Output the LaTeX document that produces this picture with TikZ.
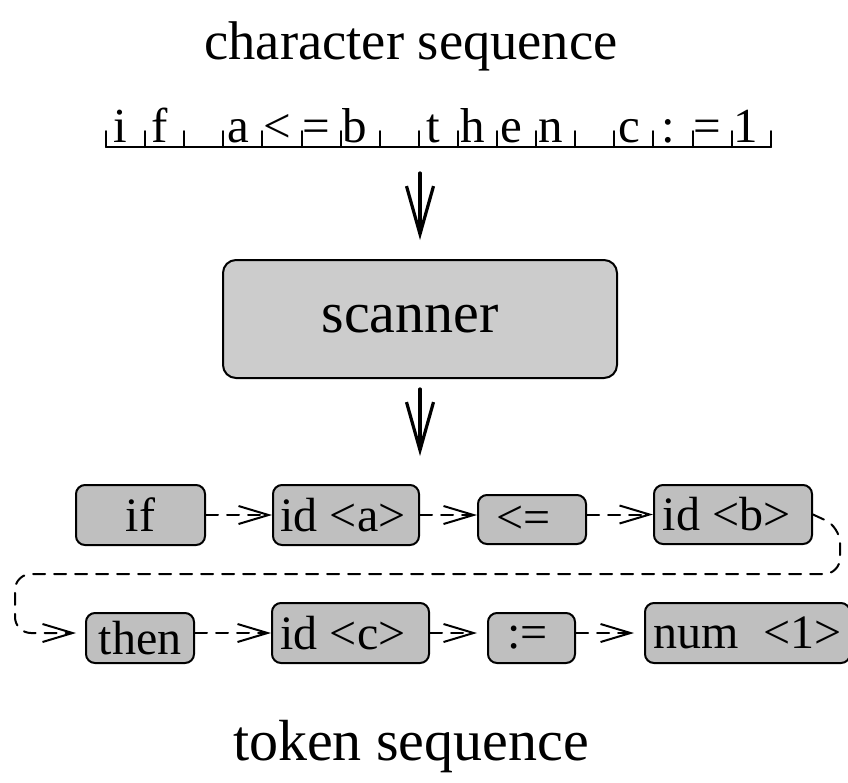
\documentclass[tikz,border=0pt]{standalone}
\usepackage{fontspec}
\setmainfont{Liberation Serif}
\usetikzlibrary{arrows.meta,positioning}
\definecolor{scangray}{gray}{0.8}
\definecolor{tokengray}{gray}{0.75}

\begin{document}
\begin{tikzpicture}[x=1pt,y=-1pt,line cap=round,
  every node/.style={inner sep=0pt},
  bigfont/.style={font=\fontsize{58}{62}\selectfont},
  tapefont/.style={font=\fontsize{49}{52}\selectfont},
  tok/.style={draw,line width=2pt,rounded corners=9pt,fill=tokengray,
   font=\fontsize{48}{50}\selectfont},
  bigarrow/.style={line width=3.2pt,-{Straight Barb[length=48pt,width=27pt]}},
  flow/.style={line width=2pt,dash pattern=on 12pt off 9pt,
   -{Straight Barb[length=30pt,width=18pt]}}]
 \useasboundingbox (0,0) rectangle (848,782);
 \node[bigfont,font=\fontsize{54.5}{60}\selectfont,anchor=base] (charseq) at (411,59) {character sequence};
 % the character tape
 \foreach \ch [count=\i from 0] in {i,f,{},a,<,=,b,{},t,h,e,n,{},c,:,=,1}
  \node[tapefont,anchor=base] (cell\i) at (120.6+39.1*\i,142) {\ch};
 \draw[line width=2pt] (106,147) -- (771,147);
 \foreach \i in {0,...,17}
  \draw[line width=2pt] (106+39.1*\i,147) -- ++(0,-16);
 \coordinate (tape) at (420,147);
 \node[draw,line width=2pt,rounded corners=13pt,fill=scangray,
  minimum width=394pt,minimum height=118pt,bigfont] (scan) at (420,319) {scanner\hspace*{20pt}};
 \draw[bigarrow,shorten <=26pt,shorten >=19pt] (tape) -- (scan);
 % tokens
 \node[tok,minimum width=129pt,minimum height=60pt] (if) at (140.5,515) {if};
 \node[tok,minimum width=146pt,minimum height=60pt] (ida) at (346,515) {id <a>\hspace*{6pt}};
 \node[tok,minimum width=108pt,minimum height=49pt] (le) at (532,519.5) {<=\hspace*{17pt}};
 \node[tok,minimum width=158pt,minimum height=59pt] (idb) at (733,514.5) {id <b>\hspace*{13pt}};
 \node[tok,minimum width=108pt,minimum height=50pt] (then) at (140,638) {then};
 \node[tok,minimum width=157pt,minimum height=60pt] (idc) at (350.5,633) {id <c>\hspace*{15pt}};
 \node[tok,minimum width=87pt,minimum height=50pt] (assign) at (531.5,638) {:=\hspace*{8pt}};
 \node[tok,minimum width=205pt,minimum height=60pt] (num) at (747.5,633) {num\ \ <1>};
 \draw[bigarrow,shorten <=10pt,shorten >=28pt] (scan.south) -- (scan.south |- idb.north);
 \draw[flow] (if.east) -- (ida.west);
 \draw[flow] (ida.east) -- (ida.east -| le.west);
 \draw[flow] (idb.west -| le.east) -- (idb.west);
 \draw[flow,rounded corners=16pt,shorten >=9pt] (idb.east) -- (840,527)
  -- (840,574) -- (15,574) -- (15,633) -- (then.west |- idc.west);
 \draw[flow] ([yshift=5pt]then.east) -- (idc.west);
 \draw[flow,shorten >=10pt] (idc.east) -- (idc.east -| assign.west);
 \draw[flow,shorten >=10pt] ([yshift=5pt]assign.east) -- (num.west);
 \node[bigfont,anchor=base] (tokseq) at (411,760) {token sequence};
\end{tikzpicture}
\end{document}
